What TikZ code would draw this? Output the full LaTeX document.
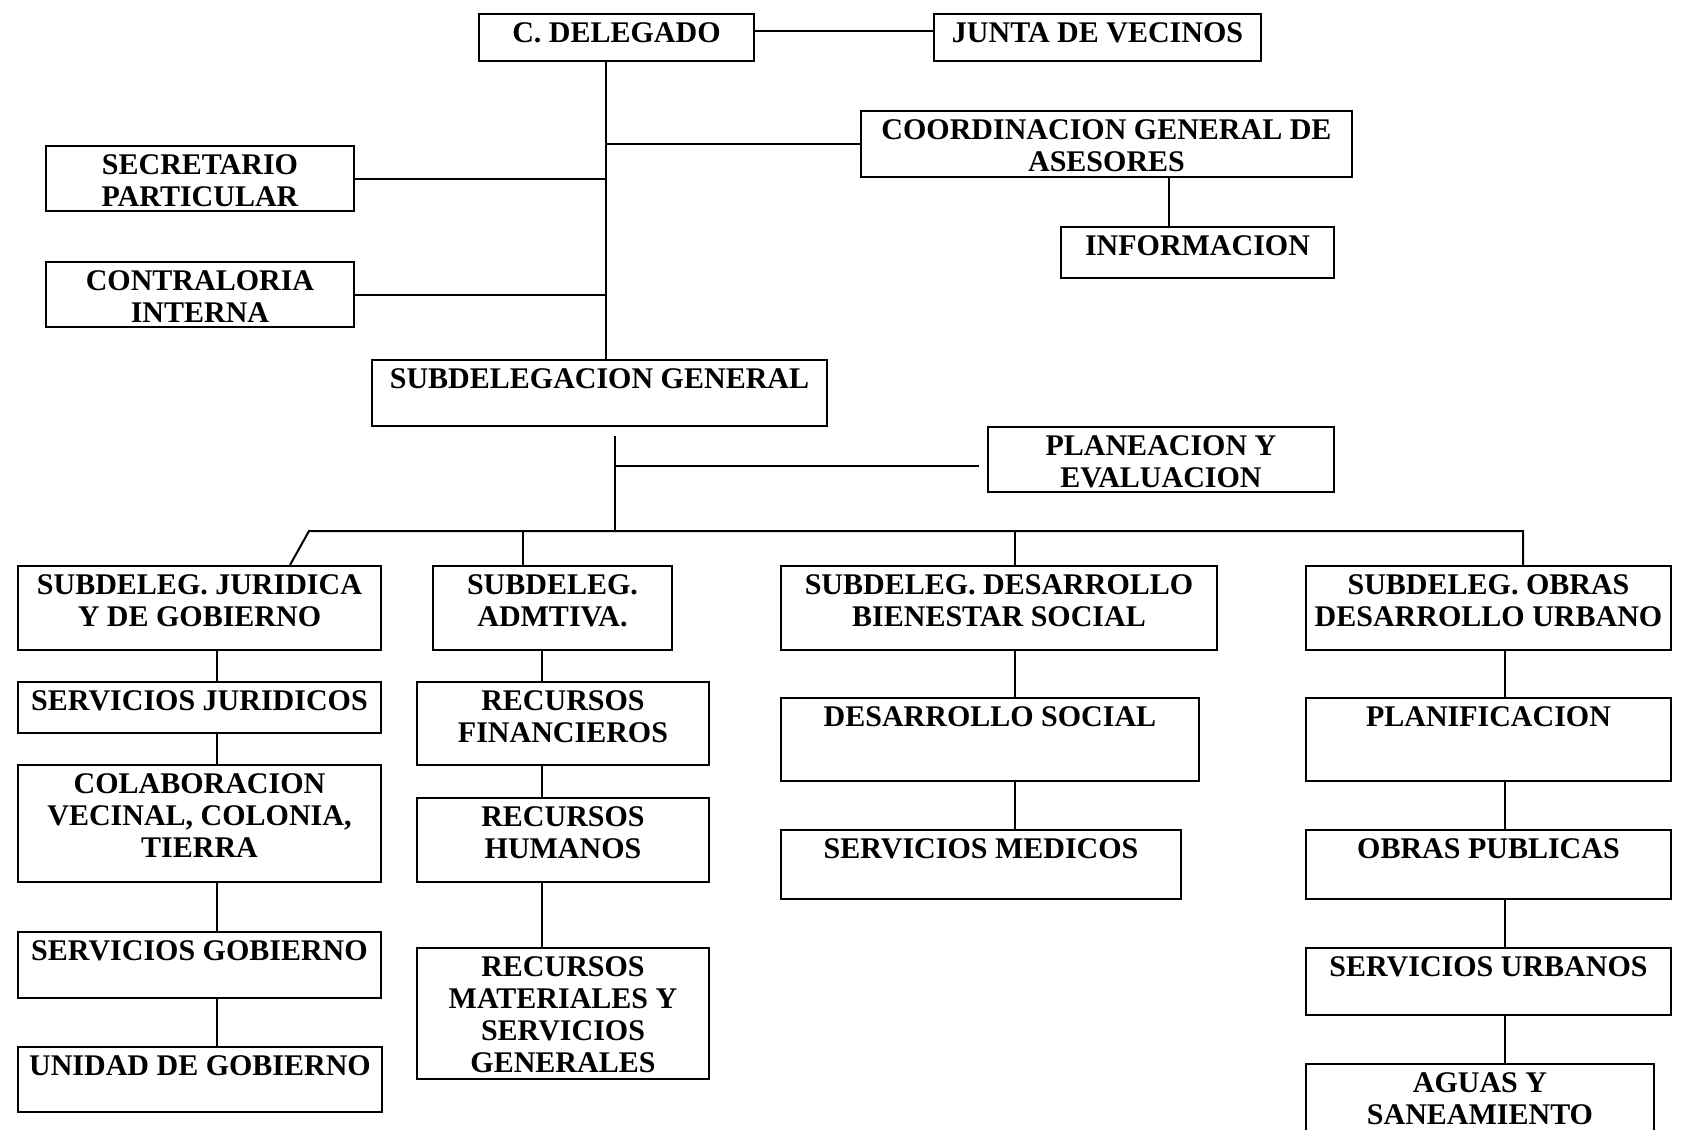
\documentclass[tikz,border=0pt]{standalone}
\usepackage{fontspec}
\setmainfont{Liberation Serif}
\usetikzlibrary{calc}
\newdimen\pxu \pxu=0.5pt
\tikzset{
  box/.style 2 args={draw, line width=1pt, inner sep=0pt, anchor=north west,
    font=\fontsize{15}{16}\selectfont\bfseries,
    execute at begin node={\begin{minipage}[c][#2\pxu][t]{#1\pxu}\centering\vspace*{4.5pt}},
    execute at end node={\end{minipage}}},
  link/.style={line width=1pt}
}

\begin{document}
\begin{tikzpicture}[x=0.5pt,y=-0.5pt]
  \useasboundingbox (0,0) rectangle (1682,1130);
  % cabeza
  \node[box={275}{47}] (dele) at (478,13) {C. DELEGADO};
  \node[box={327}{47}] (junta) at (933,13) {JUNTA DE VECINOS};
  \node[box={491}{66}] (coord) at (860,110) {COORDINACION GENERAL DE\\ASESORES};
  \node[box={308}{65}] (secr) at (45,145) {SECRETARIO\\PARTICULAR};
  \node[box={273}{51}] (info) at (1060,226) {INFORMACION};
  \node[box={308}{65}] (contr) at (45,261) {CONTRALORIA\\INTERNA};
  \node[box={455}{66}] (subgen) at (371,359) {SUBDELEGACION GENERAL};
  \node[box={346}{65}] (plan) at (987,426) {PLANEACION Y\\EVALUACION};

  % subdelegaciones
  \node[box={363}{84}] (jur) at (17,565) {SUBDELEG. JURIDICA\\Y DE GOBIERNO};
  \node[box={239}{84}] (adm) at (432,565) {SUBDELEG.\\ADMTIVA.};
  \node[box={436}{84}] (des) at (780,565) {SUBDELEG. DESARROLLO\\BIENESTAR SOCIAL};
  \node[box={365}{84}] (obr) at (1305,565) {SUBDELEG. OBRAS\\DESARROLLO URBANO};

  % juridica
  \node[box={363}{51}] (sjur) at (17,681) {SERVICIOS JURIDICOS};
  \node[box={363}{117}] (colab) at (17,764) {COLABORACION\\VECINAL, COLONIA,\\TIERRA};
  \node[box={363}{66}] (sgob) at (17,931) {SERVICIOS GOBIERNO};
  \node[box={364}{65}] (unid) at (17,1046) {UNIDAD DE GOBIERNO};
  % administrativa
  \node[box={292}{83}] (rfin) at (416,681) {RECURSOS\\FINANCIEROS};
  \node[box={292}{84}] (rhum) at (416,797) {RECURSOS\\HUMANOS};
  \node[box={292}{131}] (rmat) at (416,947) {RECURSOS\\MATERIALES Y\\SERVICIOS\\GENERALES};
  % desarrollo social
  \node[box={418}{83}] (dsoc) at (780,697) {DESARROLLO SOCIAL};
  \node[box={400}{69}] (smed) at (780,829) {SERVICIOS MEDICOS};
  % obras
  \node[box={365}{83}] (plani) at (1305,697) {PLANIFICACION};
  \node[box={365}{69}] (obpub) at (1305,829) {OBRAS PUBLICAS};
  \node[box={365}{67}] (surb) at (1305,947) {SERVICIOS URBANOS};
  \node[box={348}{80}] (aguas) at (1305,1063) {AGUAS Y\\SANEAMIENTO};

  % lineas
  \coordinate (jv) at (0,31);
  \coordinate (tk) at (606,0);
  \coordinate (ci) at (1169,0);
  \coordinate (tk2) at (615,0);
  \coordinate (pl) at (0,466);
  \coordinate (bus) at (0,531);
  \coordinate (sl) at (290,0);
  \coordinate (bl) at (309,531);
  \coordinate (br) at (1523,531);
  \coordinate (ca0) at (523,0);
  \coordinate (cj) at (217,0);
  \coordinate (ca) at (542,0);
  \coordinate (cd) at (1015,0);
  \coordinate (co) at (1505,0);

  \draw[link] (dele.east |- jv) -- (junta.west |- jv);
  \draw[link] (dele.south -| tk) -- (subgen.north -| tk);
  \draw[link] (coord.west) -- (coord.west -| tk);
  \draw[link] (secr.east) -- (secr.east -| tk);
  \draw[link] (contr.east) -- (contr.east -| tk);
  \draw[link] (coord.south -| ci) -- (info.north -| ci);

  \draw[link,shorten <=4.5pt] (subgen.south -| tk2) -- (tk2 |- bus);
  \draw[link,shorten >=4pt] (tk2 |- pl) -- (plan.west |- pl);
  \draw[link] (jur.north -| sl) -- (bl) -- (br) -- (obr.north -| br);
  \draw[link] (adm.north -| ca0) -- (ca0 |- bus);
  \draw[link] (des.north -| cd) -- (cd |- bus);

  \foreach \a/\b in {jur/sjur,sjur/colab,colab/sgob,sgob/unid}
    \draw[link] (\a.south -| cj) -- (\b.north -| cj);
  \foreach \a/\b in {adm/rfin,rfin/rhum,rhum/rmat}
    \draw[link] (\a.south -| ca) -- (\b.north -| ca);
  \foreach \a/\b in {des/dsoc,dsoc/smed}
    \draw[link] (\a.south -| cd) -- (\b.north -| cd);
  \foreach \a/\b in {obr/plani,plani/obpub,obpub/surb,surb/aguas}
    \draw[link] (\a.south -| co) -- (\b.north -| co);
\end{tikzpicture}
\end{document}
